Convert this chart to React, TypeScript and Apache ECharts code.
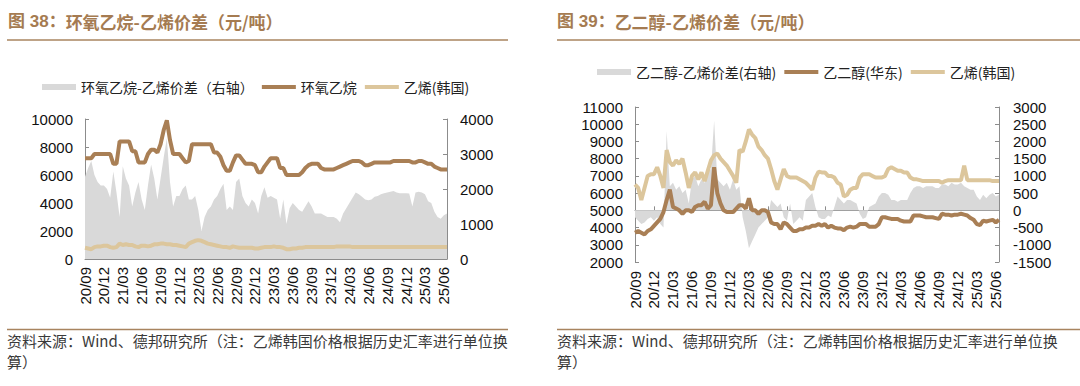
import React, { useEffect, useRef } from "react";
import * as echarts from "echarts";

// ---------- categories (half-month periods, 2020/09 – 2025/06) ----------
const tickLabels = ["20/09","20/12","21/03","21/06","21/09","21/12","22/03","22/06","22/09","22/12","23/03","23/06","23/09","23/12","24/03","24/06","24/09","24/12","25/03","25/06"];
const periods: string[] = [];
for (let y = 2020; y <= 2025; y++) {
  for (let m = 1; m <= 12; m++) {
    if ((y === 2020 && m < 9) || (y === 2025 && m > 6)) continue;
    const lab = `${String(y).slice(2)}/${String(m).padStart(2, "0")}`;
    periods.push(lab + "上", lab + "下");
  }
}

// ---------- Chart 38: 环氧乙烷 / 乙烯(韩国) / 价差 ----------
const eoPrice = [7200,7200,7200,7500,7500,7500,7500,7500,7500,6800, 6800,8400,8400,8400,8400,7700,7700,6900,6900,6900, 7500,7800,7800,7600,8200,9200,9900,8500,7500,7500, 7500,7200,6900,7000,8200,8200,8200,8200,8200,8200, 8200,7600,7600,7300,6700,6300,6300,6900,7400,7400, 7100,6800,6800,6800,6700,6200,6200,6600,6900,7200, 7200,7200,6500,6500,6000,6000,6000,6000,6000,6200, 6500,6700,6800,6800,6800,6500,6400,6400,6400,6400, 6500,6600,6700,6800,6900,7000,7000,7000,6900,6700, 6700,6800,6900,6900,6900,6900,6900,6900,7000,7000, 7000,7000,7000,7000,6900,6900,7000,7000,6900,6800, 6800,6600,6500,6400,6400,6400];
const ethKorea1 = [800,750,700,850,900,900,950,950,850,800, 850,1100,1000,1050,1000,1000,900,850,950,950, 900,950,1050,1050,1100,1100,1050,1050,1000,1000, 950,900,850,1100,1200,1300,1350,1300,1200,1100, 1050,1000,950,900,850,850,800,900,850,800, 800,800,800,800,750,750,800,850,850,850, 900,850,850,800,700,700,750,750,800,800, 850,850,850,850,850,850,850,850,850,850, 900,900,900,900,900,850,850,850,850,850, 850,850,850,850,850,850,850,850,850,850, 850,850,850,850,850,850,850,850,850,850, 850,850,850,850,850,850];
const eoSpread = [2350,2600,2800,2400,2200,2100,2100,2000,1750,2500, 1900,1200,2650,2300,2100,1500,1900,2200,1700,1400, 2100,2700,2300,1700,2300,2900,3450,2200,1500,1800, 1800,2000,2100,1700,1700,1800,1400,800,1200,1400, 1500,1700,1800,2000,2150,1400,1500,1400,2200,2300, 1800,1600,1500,1700,1600,1300,1800,2050,1750,1800, 1750,1700,1150,1700,1000,1450,1600,1500,1400,1350, 1500,1650,1500,1300,1300,1300,1250,1200,1200,1200, 1150,1050,1300,1450,1600,1750,1900,1850,1780,1700, 1680,1700,1780,1800,1850,1880,1900,1920,1940,1900, 1880,1880,1880,1870,1500,1900,1920,1900,1850,1650, 1600,1350,1200,1150,1250,1300];

// ---------- Chart 39: 乙二醇(华东) / 乙烯(韩国) / 价差 ----------
const ethKorea2 = [6500,6300,5600,6300,7000,7100,7100,7500,7000,6300, 8500,7800,7600,7900,7700,8000,7200,6300,7000,7200, 6800,7200,6700,7300,7900,8200,8300,8000,7800,7600, 7300,7000,6600,8500,8400,9000,9700,9400,9200,8700, 8500,8200,8000,7400,6700,6200,6800,7400,7000,6900, 6900,6900,6800,6700,6600,6400,6200,6900,7250,7200, 7200,7000,7000,6900,6600,6500,5800,5900,6200,6300, 6300,6900,7100,7100,7100,7000,6900,6900,6900,7000, 7400,7500,7400,7300,7300,7200,7200,6900,6800,6800, 6750,6700,6700,6700,6700,6700,6700,6600,6700,6750, 6750,6750,6750,6750,7600,6750,6750,6750,6750,6750, 6750,6750,6750,6700,6700,6700];
const megPrice = [3700,3800,3700,3600,3800,3900,4100,4300,4500,4900, 5600,6200,5200,5100,5000,4800,5000,5000,4900,5200, 5300,5300,5500,5100,5300,7500,6000,5400,5000,4900, 4900,4900,5100,5300,5300,5100,5700,5000,5000,4800, 5000,5000,4900,4300,4200,4200,3900,4300,4200,4000, 3800,3800,3900,3900,4000,4000,4100,4100,4200,4100, 4200,4000,4100,4000,3950,3950,3850,4000,4050,4000, 4050,4200,4200,4200,4050,4050,4050,4200,4600,4600, 4550,4500,4500,4500,4400,4350,4350,4350,4700,4700, 4700,4650,4600,4600,4600,4550,4500,4800,4750,4750, 4700,4750,4750,4800,4750,4700,4550,4450,4200,4150, 4400,4350,4400,4450,4300,4450];
const megSpread = [-200,-300,-400,-350,-250,-200,-300,-200,-400,-500, 2300,700,800,600,700,500,600,200,900,1000, 700,900,800,1100,1200,2600,900,800,700,800, 600,900,600,700,-200,-600,-1100,-900,-700,-500, -400,-300,-200,300,200,100,200,-200,-300,200, -400,-300,-200,-300,300,400,500,100,-200,-250, -250,-150,-200,100,400,300,200,300,300,250, 200,-100,-250,-200,100,150,200,400,500,500, 450,300,300,250,300,300,300,500,650,700, 700,650,700,700,700,650,650,750,750,700, 800,750,750,800,700,650,600,600,400,300, 450,350,450,500,400,450];

// ---------- texts ----------
const title1 = ["图 38：", "环氧乙烷-乙烯价差（元/吨）"];
const title2 = ["图 39：", "乙二醇-乙烯价差（元/吨）"];
const legend1 = ["环氧乙烷-乙烯价差（右轴）", "环氧乙烷", "乙烯(韩国)"];
const legend2 = ["乙二醇-乙烯价差(右轴)", "乙二醇(华东)", "乙烯(韩国)"];
const sourceLine1 = "资料来源：Wind、德邦研究所（注：乙烯韩国价格根据历史汇率进行单位换";
const sourceLine2 = "算）";

// ---------- styles ----------
const GRAY = "#d9d9d9";
const BROWN = "#a97f55";
const TAN = "#dcc69c";
const TITLE = "#a57b51";
const RULE = "#a8845f";
const AXIS = "#8c8c8c";
const FONT = "'Liberation Sans', Arial, 'Noto Sans CJK SC', sans-serif";
const CJK = "'Noto Sans CJK SC', 'Liberation Sans', sans-serif";
const AREA_ICON = "path://M0,0H34V6H0Z";
const LINE_ICON = "path://M0,0H34V4H0Z";

const labelStyle = { color: "#111", fontSize: 15, fontFamily: FONT };

function xAxis(gridIndex: number, margin: number) {
  return {
    type: "category",
    gridIndex,
    data: periods,
    boundaryGap: false,
    axisLine: { lineStyle: { color: AXIS, width: 1 } },
    axisTick: { inside: true, length: 4, interval: 5, lineStyle: { color: AXIS } },
    axisLabel: {
      interval: 5,
      rotate: 90,
      margin,
      formatter: (v: string) => {
        const s = v.slice(0, 5);
        return tickLabels.includes(s) ? s : "";
      },
      ...labelStyle,
    },
    splitLine: { show: false },
  };
}

function yAxis(gridIndex: number, position: string, min: number, max: number, interval: number, margin: number) {
  return {
    type: "value",
    gridIndex,
    position,
    min,
    max,
    interval,
    axisLine: { show: true, lineStyle: { color: AXIS, width: 1 } },
    axisTick: { show: true, inside: true, length: 4, lineStyle: { color: AXIS } },
    axisLabel: { margin, formatter: (v: number) => String(v), ...labelStyle },
    splitLine: { show: false },
  };
}

function areaSeries(name: string, xi: number, yi: number, data: number[]) {
  return {
    name, type: "line", xAxisIndex: xi, yAxisIndex: yi, data,
    symbol: "none", color: GRAY, itemStyle: { color: GRAY },
    lineStyle: { width: 0, color: GRAY }, areaStyle: { color: GRAY, opacity: 1 }, z: 1,
  };
}
function lineSeries(name: string, xi: number, yi: number, data: number[], color: string, z: number) {
  return {
    name, type: "line", xAxisIndex: xi, yAxisIndex: yi, data,
    symbol: "none", color, itemStyle: { color },
    lineStyle: { width: 4, color }, z,
  };
}

function legend(left: number, top: number, names: string[]) {
  return {
    left, top, padding: 0, itemWidth: 34, itemHeight: 7, itemGap: 8,
    selectedMode: false, itemStyle: { borderWidth: 0 },
    textStyle: { fontSize: 14, fontFamily: CJK, color: "#222" },
    data: [
      { name: names[0], icon: AREA_ICON },
      { name: names[1], icon: LINE_ICON },
      { name: names[2], icon: LINE_ICON },
    ],
  };
}

function titleText(x: number, parts: string[]) {
  return {
    type: "text", x, y: 21.5, silent: true,
    style: {
      text: `{a|${parts[0]}}{b|${parts[1]}}`,
      verticalAlign: "middle",
      rich: {
        a: { fontSize: 17, fontWeight: "bold", fill: TITLE, fontFamily: FONT },
        b: { fontSize: 17, fontWeight: "bold", fill: TITLE, fontFamily: CJK },
      },
    },
  };
}
function rule(x1: number, x2: number, y: number) {
  return { type: "line", silent: true, shape: { x1, y1: y, x2, y2: y }, style: { stroke: RULE, lineWidth: 1.5 } };
}
function srcText(x: number, y: number, text: string) {
  return { type: "text", x, y, silent: true, style: { text, fontSize: 15, fontFamily: CJK, fill: "#3a3a3a", verticalAlign: "middle" } };
}

const option = {
  animation: false,
  backgroundColor: "#ffffff",
  grid: [
    { left: 85, right: 633, top: 119, bottom: 127 },
    { left: 635, right: 81, top: 107, bottom: 124 },
  ],
  xAxis: [xAxis(0, 8), xAxis(1, 9)],
  yAxis: [
    yAxis(0, "left", 0, 10000, 2000, 12),
    yAxis(0, "right", 0, 4000, 1000, 13),
    yAxis(1, "left", 2000, 11000, 1000, 12),
    yAxis(1, "right", -1500, 3000, 500, 14),
  ],
  legend: [legend(42, 80, legend1), legend(597, 65, legend2)],
  series: [
    areaSeries(legend1[0], 0, 1, eoSpread),
    lineSeries(legend1[1], 0, 0, eoPrice, BROWN, 3),
    lineSeries(legend1[2], 0, 0, ethKorea1, TAN, 4),
    areaSeries(legend2[0], 1, 3, megSpread),
    lineSeries(legend2[1], 1, 2, megPrice, BROWN, 3),
    lineSeries(legend2[2], 1, 2, ethKorea2, TAN, 4),
  ],
  graphic: [
    titleText(8, title1),
    titleText(557, title2),
    rule(7, 508, 40),
    rule(557, 1080, 40),
    rule(7, 508, 329.5),
    rule(557, 1080, 329.5),
    srcText(7, 340, sourceLine1),
    srcText(7, 361.5, sourceLine2),
    srcText(557, 340, sourceLine1),
    srcText(557, 361.5, sourceLine2),
  ],
};

export default function App() {
  const ref = useRef<HTMLDivElement>(null);
  useEffect(() => {
    if (!ref.current) return;
    const chart = echarts.init(ref.current, null, { renderer: "svg" });
    chart.setOption(option as any);
    return () => chart.dispose();
  }, []);
  return <div ref={ref} style={{ position: "absolute", left: 0, top: 0, width: 1080, height: 386 }} />;
}
